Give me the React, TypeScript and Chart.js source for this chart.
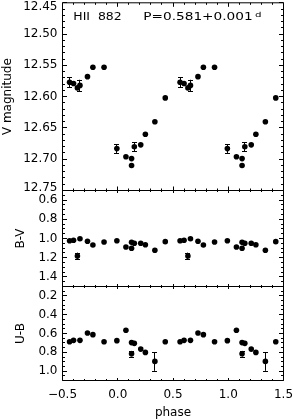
import React, { useEffect, useRef } from 'react';
import { Chart, registerables } from 'chart.js';

Chart.register(...registerables);

// ---- data ----
const phases = [-0.436, -0.4, -0.365, -0.342, -0.274, -0.225, -0.124, -0.008, 0.074, 0.125, 0.125, 0.15, 0.208, 0.25, 0.336, 0.43];
const vMag = [12.577, 12.579, 12.586, 12.582, 12.568, 12.553, 12.553, 12.683, 12.696, 12.699, 12.71, 12.68, 12.677, 12.66, 12.64, 12.602];
const vErr = [0.008, 0, 0, 0.009, 0, 0, 0, 0.007, 0, 0, 0, 0.007, 0, 0, 0, 0];
const bvColor = [1.023, 1.019, 1.182, 1.002, 1.029, 1.068, 1.036, 1.023, 1.089, 1.04, 1.102, 1.05, 1.05, 1.065, 1.123, 1.033];
const bvErr = [0, 0, 0.035, 0, 0, 0, 0, 0, 0, 0, 0, 0, 0, 0, 0, 0];
const ubColor = [0.687, 0.673, null, 0.673, 0.595, 0.612, 0.687, 0.676, 0.566, 0.697, 0.815, 0.705, 0.766, 0.801, 0.897, 0.687];
const ubErr = [0, 0, 0, 0, 0, 0, 0, 0, 0, 0, 0.03, 0, 0, 0, 0.1, 0];
const cycleOffsets = [0, 1];

const phaseTicks = [-0.5, 0, 0.5, 1, 1.5];
const vTicks = [12.45, 12.5, 12.55, 12.6, 12.65, 12.7, 12.75];
const bvTicks = [0.6, 0.8, 1.0, 1.2, 1.4];
const ubTicks = [0.2, 0.4, 0.6, 0.8, 1.0];

const starName = 'HII  882';
const periodText = 'P=0.581+0.001';
const periodUnit = 'd';

const FONT = '"DejaVu Sans", "Liberation Sans", sans-serif';

type PanelCfg = {
  values: (number | null)[];
  errors: number[];
  ticks: number[];
  min: number;
  max: number;
  minorStep: number;
  majorStep: number;
  title: string;
  titlePad: number;
  padTop: number;
  padBottom: number;
  showX: boolean;
  xMajorLen: number;
  xMinorLen: number;
  top: boolean;
};

function fmtPhase(v: number) {
  const s = Math.abs(v).toFixed(1);
  return v < -1e-9 ? '\u2212' + s : s;
}

function drawStretched(ctx: CanvasRenderingContext2D, text: string, x: number, y: number, w: number) {
  const m = ctx.measureText(text).width;
  ctx.save();
  ctx.translate(x, y);
  ctx.scale(w / m, 1);
  ctx.fillText(text, 0, 0);
  ctx.restore();
}

function makeChart(canvas: HTMLCanvasElement, cfg: PanelCfg) {
  const pts: { x: number; y: number; err: number }[] = [];
  cycleOffsets.forEach((off) =>
    phases.forEach((p, i) => {
      const v = cfg.values[i];
      if (v == null) return;
      pts.push({ x: p + off, y: v, err: cfg.errors[i] });
    })
  );

  const deco = {
    id: 'deco',
    afterDatasetsDraw(chart: any) {
      const { ctx, scales } = chart;
      const xs = scales.x, ys = scales.y;
      ctx.save();
      ctx.strokeStyle = '#000';
      ctx.lineWidth = 1;
      ctx.beginPath();
      pts.forEach((p) => {
        if (!p.err) return;
        const px = Math.floor(xs.getPixelForValue(p.x)) + 0.5;
        const y1 = ys.getPixelForValue(p.y - p.err);
        const y2 = ys.getPixelForValue(p.y + p.err);
        ctx.moveTo(px, y1);
        ctx.lineTo(px, y2);
        ctx.moveTo(px - 2.5, Math.round(y1) + 0.5);
        ctx.lineTo(px + 2.5, Math.round(y1) + 0.5);
        ctx.moveTo(px - 2.5, Math.round(y2) + 0.5);
        ctx.lineTo(px + 2.5, Math.round(y2) + 0.5);
      });
      ctx.stroke();
      ctx.restore();
    },
    afterDraw(chart: any) {
      const { ctx, chartArea: a, scales } = chart;
      const xs = scales.x, ys = scales.y;
      ctx.save();
      ctx.strokeStyle = '#000';
      ctx.lineWidth = 1;
      ctx.beginPath();
      ctx.rect(a.left, a.top, a.right - a.left, a.bottom - a.top);
      // x ticks (inward, top and bottom)
      const nx = Math.round(2 / 0.1);
      for (let i = 0; i <= nx; i++) {
        const v = -0.5 + i * 0.1;
        const px = Math.floor(xs.getPixelForValue(v)) + 0.5;
        const len = i % 5 === 0 ? cfg.xMajorLen : cfg.xMinorLen;
        ctx.moveTo(px, a.bottom);
        ctx.lineTo(px, a.bottom - len);
        ctx.moveTo(px, a.top);
        ctx.lineTo(px, a.top + len);
      }
      // y ticks (inward, left and right)
      const ny = Math.round((cfg.max - cfg.min) / cfg.minorStep);
      for (let i = 0; i <= ny; i++) {
        const v = cfg.min + i * cfg.minorStep;
        const r = v / cfg.majorStep;
        const major = Math.abs(r - Math.round(r)) < 1e-6;
        const py = Math.floor(ys.getPixelForValue(v)) + 0.5;
        const len = major ? 4.5 : 2.5;
        ctx.moveTo(a.left, py);
        ctx.lineTo(a.left + len, py);
        ctx.moveTo(a.right, py);
        ctx.lineTo(a.right - len, py);
      }
      ctx.stroke();

      if (cfg.top) {
        ctx.fillStyle = '#000';
        ctx.font = `12px ${FONT}`;
        ctx.textAlign = 'right';
        ctx.textBaseline = 'middle';
        const lx = a.left - 5;
        ctx.fillText(vTicks[0].toFixed(2), lx, ys.getPixelForValue(vTicks[0]) + 4);
        const last = vTicks[vTicks.length - 1];
        ctx.fillText(last.toFixed(2), lx, ys.getPixelForValue(last) - 3);

        ctx.textAlign = 'left';
        ctx.textBaseline = 'alphabetic';
        ctx.font = `10px ${FONT}`;
        drawStretched(ctx, starName, 73.3, 19.5, 48.4);
        drawStretched(ctx, periodText, 143.3, 19.5, 109.4);
        ctx.font = `7px ${FONT}`;
        drawStretched(ctx, periodUnit, 255, 16.5, 6.5);
      }
      ctx.restore();
    },
  };

  const hidden = cfg.top ? [vTicks[0], vTicks[vTicks.length - 1]] : [];
  const decimals = cfg.top ? 2 : 1;

  return new Chart(canvas, {
    type: 'scatter',
    data: {
      datasets: [
        {
          data: pts,
          pointRadius: 2.8,
          pointHoverRadius: 2.8,
          pointBackgroundColor: '#000',
          pointBorderColor: '#000',
          pointBorderWidth: 0,
          showLine: false,
        } as any,
      ],
    },
    options: {
      animation: false,
      responsive: false,
      devicePixelRatio: 1,
      events: [],
      layout: { padding: { top: cfg.padTop, bottom: cfg.padBottom, left: 0, right: 9.5 } },
      plugins: { legend: { display: false }, tooltip: { enabled: false } },
      scales: {
        x: {
          type: 'linear',
          min: -0.5,
          max: 1.5,
          display: cfg.showX,
          grid: { display: false, drawTicks: false },
          border: { display: false },
          afterBuildTicks: (s: any) => {
            s.ticks = phaseTicks.map((v) => ({ value: v }));
          },
          afterFit: (s: any) => {
            s.height = cfg.showX ? 38.5 : 0;
            s.paddingLeft = 0;
            s.paddingRight = 0;
          },
          ticks: {
            color: '#000',
            font: { family: FONT, size: 12 },
            padding: 7.3,
            maxRotation: 0,
            autoSkip: false,
            callback: (v: any) => fmtPhase(Number(v)),
          },
          title: {
            display: cfg.showX,
            text: 'phase',
            color: '#000',
            font: { family: FONT, size: 12, lineHeight: 1 },
            padding: { top: 0, bottom: 0 },
          },
        },
        y: {
          type: 'linear',
          min: cfg.min,
          max: cfg.max,
          reverse: true,
          grid: { display: false, drawTicks: false },
          border: { display: false },
          afterBuildTicks: (s: any) => {
            s.ticks = cfg.ticks.map((v) => ({ value: v }));
          },
          afterFit: (s: any) => {
            s.width = 62.5;
            s.paddingTop = 0;
            s.paddingBottom = 0;
          },
          ticks: {
            color: '#000',
            font: { family: FONT, size: 12 },
            padding: 5,
            autoSkip: false,
            callback: (v: any) => {
              const n = Number(v);
              if (hidden.some((h) => Math.abs(h - n) < 1e-9)) return '';
              return n.toFixed(decimals);
            },
          },
          title: {
            display: true,
            text: cfg.title,
            color: '#000',
            font: { family: FONT, size: 12, lineHeight: 1 },
            padding: { top: cfg.titlePad, bottom: 0 },
          },
        },
      },
    } as any,
    plugins: [deco],
  });
}

const panels: { top: number; height: number; cfg: PanelCfg }[] = [
  {
    top: 0,
    height: 196,
    cfg: {
      values: vMag, errors: vErr, ticks: vTicks, min: 12.45, max: 12.75, minorStep: 0.01, majorStep: 0.05,
      title: 'V magnitude', titlePad: 2, padTop: 1.5, padBottom: 5.5, showX: false, xMajorLen: 4, xMinorLen: 2, top: true,
    },
  },
  {
    top: 186,
    height: 105,
    cfg: {
      values: bvColor, errors: bvErr, ticks: bvTicks, min: 0.5, max: 1.5, minorStep: 0.05, majorStep: 0.2,
      title: 'B-V', titlePad: 15, padTop: 4.5, padBottom: 4.5, showX: false, xMajorLen: 2.5, xMinorLen: 1.5, top: false,
    },
  },
  {
    top: 282,
    height: 137,
    cfg: {
      values: ubColor, errors: ubErr, ticks: ubTicks, min: 0.1, max: 1.1, minorStep: 0.05, majorStep: 0.2,
      title: 'U-B', titlePad: 15, padTop: 4.5, padBottom: 0, showX: true, xMajorLen: 2.5, xMinorLen: 1.5, top: false,
    },
  },
];

function Panel({ top, height, cfg }: { top: number; height: number; cfg: PanelCfg }) {
  const ref = useRef<HTMLCanvasElement>(null);
  useEffect(() => {
    if (!ref.current) return;
    const chart = makeChart(ref.current, cfg);
    return () => chart.destroy();
  }, []);
  return (
    <canvas
      ref={ref}
      width={293}
      height={height}
      style={{ position: 'absolute', left: 0, top, width: 293, height, display: 'block' }}
    />
  );
}

export default function App() {
  return (
    <div style={{ position: 'absolute', left: 0, top: 0, width: 293, height: 419, background: '#fff', overflow: 'hidden' }}>
      {panels.map((p, i) => (
        <Panel key={i} top={p.top} height={p.height} cfg={p.cfg} />
      ))}
    </div>
  );
}
